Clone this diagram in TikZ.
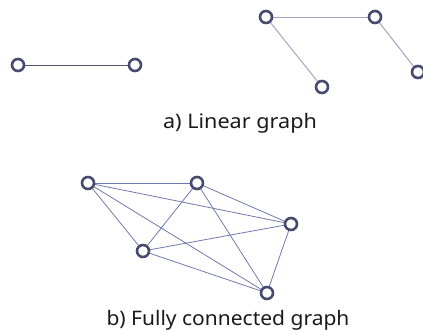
\documentclass[tikz,border=0pt]{standalone}
\usepackage{fontspec}
\setmainfont{Noto Sans}
\definecolor{nodecol}{HTML}{474B6E}
\definecolor{lineA}{HTML}{55566E}
\definecolor{lineB}{HTML}{A3A3C2}
\definecolor{lineC}{HTML}{7279AE}
\definecolor{txt}{HTML}{1A1A1A}
\begin{document}
\begin{tikzpicture}[x=1pt,y=-1pt,
  vtx/.style={circle,draw=nodecol,line width=2.6pt,fill=white,minimum size=12pt,inner sep=0pt},
  edgeA/.style={draw=lineA,line width=0.9pt},
  edgeB/.style={draw=lineB,line width=1pt},
  edgeC/.style={draw=lineC,line width=0.8pt},
  lbl/.style={font=\fontsize{20}{22}\selectfont,text=txt,inner sep=0pt,anchor=base}]
\useasboundingbox (0,0) rectangle (423,330);
% a) linear graphs
\coordinate (p1) at (18,65);
\coordinate (p2) at (135,65);
\coordinate (q1) at (266,17);
\coordinate (q2) at (375,17);
\coordinate (q3) at (322,87);
\coordinate (q4) at (418,72);
\draw[edgeA] (p1) -- (p2);
\draw[edgeB] (q1) -- (q2);
\draw[edgeB] (q1) -- (q3);
\draw[edgeB] (q2) -- (q4);
\node[vtx] (n1) at (p1) {};
\node[vtx] (n2) at (p2) {};
\node[vtx] (m1) at (q1) {};
\node[vtx] (m2) at (q2) {};
\node[vtx] (m3) at (q3) {};
\node[vtx] (m4) at (q4) {};
\node[lbl] (la) at (240,128) {\scalebox{1.08}[1]{a) Linear graph}};
% b) fully connected graph
\coordinate (A) at (88,183);
\coordinate (B) at (197,183);
\coordinate (C) at (291,224);
\coordinate (D) at (143,251);
\coordinate (E) at (267,293);
\foreach \u/\v in {A/B,A/C,A/D,A/E,B/C,B/D,B/E,C/D,C/E,D/E}
  \draw[edgeC] (\u) -- (\v);
\node[vtx] (a) at (A) {};
\node[vtx] (b) at (B) {};
\node[vtx] (c) at (C) {};
\node[vtx] (d) at (D) {};
\node[vtx] (e) at (E) {};
\node[lbl] (lb) at (228,325) {\scalebox{1.05}[1]{b) Fully connected graph}};
\end{tikzpicture}
\end{document}
